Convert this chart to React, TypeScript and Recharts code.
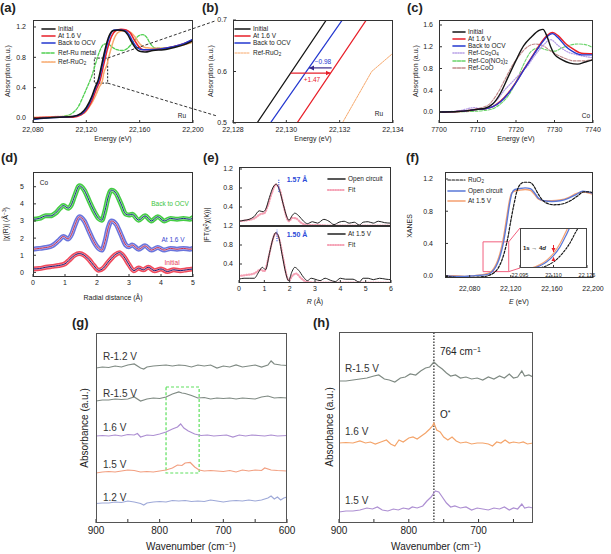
import React from 'react';
import { LineChart, Line, XAxis, YAxis, ReferenceArea, ReferenceLine } from 'recharts';

type Pt = [number, number];
const FONT = '"Liberation Sans", Arial, Helvetica, sans-serif';

// ---------- (a)/(b) Ru K-edge XANES ----------
const ruInitial: Pt[] = [[22080,-0.01],[22090,0],[22100,0.01],[22110,0.02],[22116,0.06],[22120,0.14],[22124,0.28],[22126.5,0.4],[22128.9,0.5],[22131.5,0.7],[22134,0.9],[22137,1.08],[22140,1.15],[22144,1.16],[22148,1.15],[22151,1.1],[22154,1.0],[22157,0.92],[22160,0.88],[22164,0.87],[22170,0.89],[22178,0.9],[22186,0.93],[22194,0.97],[22200,1.02]];
const ruAt16: Pt[] = [[22080,0],[22090,0.01],[22100,0.01],[22110,0.01],[22116,0.04],[22120,0.1],[22124,0.22],[22127.5,0.38],[22130.4,0.5],[22133,0.7],[22136,0.92],[22139,1.08],[22142,1.15],[22146,1.17],[22150,1.16],[22153,1.12],[22156,1.03],[22159,0.95],[22163,0.9],[22168,0.9],[22176,0.91],[22185,0.94],[22193,0.98],[22200,1.03]];
const ruBackOcv: Pt[] = [[22080,-0.02],[22090,0],[22100,0.01],[22110,0.02],[22116,0.05],[22120,0.12],[22124,0.26],[22127,0.4],[22129.4,0.5],[22132.1,0.7],[22135,0.93],[22138,1.1],[22141,1.16],[22145,1.16],[22149,1.15],[22152,1.1],[22155,1.0],[22158,0.93],[22162,0.9],[22168,0.9],[22176,0.91],[22185,0.94],[22193,0.98],[22200,1.04]];
const ruMetal: Pt[] = [[22080,0],[22095,0.01],[22105,0.03],[22110,0.07],[22114,0.15],[22118,0.3],[22121,0.42],[22124,0.55],[22127,0.72],[22130,0.88],[22133,0.97],[22136,0.98],[22139,0.94],[22143,0.9],[22147,0.89],[22151,0.92],[22155,1.0],[22159,1.08],[22162,1.1],[22165,1.07],[22168,0.98],[22172,0.92],[22178,0.92],[22186,0.94],[22193,0.97],[22200,1.0]];
const ruRuO2: Pt[] = [[22080,0.01],[22090,0.01],[22100,0.02],[22110,0.02],[22118,0.06],[22122,0.14],[22126,0.26],[22129.5,0.4],[22132.1,0.5],[22133.2,0.6],[22135,0.68],[22138,0.88],[22141,1.05],[22144,1.13],[22148,1.15],[22152,1.14],[22156,1.08],[22160,0.98],[22164,0.93],[22170,0.92],[22178,0.92],[22186,0.94],[22194,0.97],[22200,1.0]];
const ruXTicks = [22080, 22120, 22160, 22200];
const ruYTicks = [0, 0.4, 0.8, 1.2];
const zoomXTicks = [22128, 22130, 22132, 22134];
const zoomYTicks = [0.5, 0.6, 0.7];

// ---------- (c) Co K-edge XANES ----------
const coInitial: Pt[] = [[7700,0],[7705,0.01],[7708,0.03],[7710,0.05],[7712,0.07],[7714,0.15],[7716,0.35],[7718,0.65],[7720,0.95],[7722,1.22],[7724,1.38],[7726,1.5],[7727,1.52],[7728,1.4],[7729,1.2],[7730,1.06],[7732,0.96],[7734,0.9],[7736,0.88],[7738,0.92],[7740,0.96]];
const coAt16: Pt[] = [[7700,0],[7705,0.01],[7708,0.03],[7710,0.05],[7712,0.06],[7714,0.1],[7716,0.2],[7718,0.35],[7720,0.55],[7722,0.78],[7724,1.0],[7726,1.22],[7728,1.4],[7729.5,1.46],[7731,1.4],[7733,1.25],[7735,1.15],[7737,1.08],[7740,1.07]];
const coBackOcv: Pt[] = [[7700,0],[7705,0.01],[7708,0.03],[7710,0.05],[7712,0.06],[7714,0.1],[7716,0.19],[7718,0.34],[7720,0.54],[7722,0.77],[7724,0.99],[7726,1.2],[7728,1.38],[7729.5,1.44],[7731,1.36],[7733,1.2],[7735,1.1],[7737,1.05],[7740,1.05]];
const coCo3O4: Pt[] = [[7700,0],[7705,0.02],[7708,0.07],[7709,0.08],[7711,0.06],[7713,0.1],[7715,0.22],[7717,0.4],[7719,0.55],[7721,0.7],[7723,0.85],[7725,1.05],[7727,1.22],[7729,1.33],[7731,1.22],[7733,1.12],[7736,1.05],[7740,1.0]];
const coNO3: Pt[] = [[7700,0],[7708,0.01],[7712,0.03],[7714,0.06],[7716,0.15],[7718,0.3],[7720,0.55],[7722,0.88],[7724,1.12],[7726,1.18],[7728,1.14],[7730,1.12],[7732,1.18],[7734,1.23],[7736,1.25],[7738,1.24],[7740,1.18]];
const coCoO: Pt[] = [[7700,0],[7706,0.02],[7709,0.05],[7711,0.08],[7713,0.14],[7715,0.32],[7717,0.58],[7719,0.85],[7721,1.05],[7723,1.2],[7725,1.25],[7727,1.22],[7729,1.12],[7731,1.04],[7733,0.98],[7735,0.94],[7737,0.94],[7740,0.97]];
const coXTicks = [7700, 7710, 7720, 7730, 7740];
const coYTicks = [0, 0.4, 0.8, 1.2, 1.6];

// ---------- (d) Co EXAFS ----------
const dBackOcv: Pt[] = [[0,3.1],[0.2,3.15],[0.4,3.3],[0.55,3.3],[0.7,3.45],[0.85,3.75],[0.95,3.9],[1.1,3.75],[1.2,3.95],[1.3,4.45],[1.45,5.05],[1.6,4.8],[1.75,4.2],[1.9,3.6],[2.05,3.15],[2.15,3.05],[2.25,3.6],[2.35,4.4],[2.45,4.8],[2.6,4.6],[2.75,4.0],[2.9,3.4],[3.0,3.35],[3.1,3.4],[3.3,3.05],[3.5,3.3],[3.7,3.0],[3.9,3.25],[4.1,3.0],[4.3,3.15],[4.5,3.1],[4.7,3.15],[4.9,3.1],[5,3.2]];
const dAt16: Pt[] = [[0,1.35],[0.2,1.4],[0.4,1.45],[0.6,1.55],[0.8,1.85],[0.95,2.1],[1.1,1.95],[1.2,2.2],[1.3,2.7],[1.45,3.25],[1.6,3.0],[1.75,2.4],[1.9,1.8],[2.05,1.4],[2.15,1.3],[2.25,1.8],[2.35,2.6],[2.45,3.0],[2.6,2.8],[2.75,2.2],[2.9,1.6],[3.0,1.5],[3.1,1.6],[3.3,1.35],[3.5,1.55],[3.7,1.3],[3.9,1.45],[4.1,1.3],[4.3,1.4],[4.5,1.35],[4.7,1.4],[4.9,1.35],[5,1.4]];
const dInitial: Pt[] = [[0,0.2],[0.2,0.22],[0.4,0.3],[0.6,0.35],[0.8,0.4],[1.0,0.5],[1.15,0.75],[1.3,1.0],[1.45,1.1],[1.6,1.0],[1.75,0.75],[1.9,0.4],[2.05,0.12],[2.2,0.25],[2.35,0.6],[2.55,1.0],[2.7,1.15],[2.85,0.9],[3.0,0.45],[3.15,0.1],[3.3,0.25],[3.45,0.15],[3.6,0.3],[3.8,0.1],[4.0,0.2],[4.2,0.05],[4.4,0.15],[4.6,0.1],[4.8,0.15],[5,0.2]];
const dTicks = [0, 1, 2, 3, 4, 5];

// ---------- (e) Ru EXAFS fits ----------
const eOpen: Pt[] = [[0,0.1],[0.2,0.12],[0.4,0.14],[0.6,0.2],[0.8,0.32],[0.95,0.3],[1.05,0.35],[1.2,0.6],[1.35,0.82],[1.47,0.88],[1.6,0.75],[1.75,0.45],[1.9,0.18],[1.97,0.12],[2.1,0.22],[2.2,0.27],[2.35,0.22],[2.55,0.1],[2.7,0.05],[2.9,0.09],[3.1,0.06],[3.35,0.14],[3.55,0.1],[3.75,0.03],[3.95,0.08],[4.15,0.1],[4.35,0.06],[4.55,0.08],[4.75,0.02],[4.9,0.08],[5.1,0.09],[5.3,0.06],[5.5,0.1],[5.75,0.07],[6,0.06]];
const eOpenFit: Pt[] = [[0,0.1],[0.3,0.12],[0.6,0.16],[0.85,0.25],[1.0,0.27],[1.15,0.45],[1.3,0.7],[1.45,0.87],[1.6,0.78],[1.75,0.45],[1.9,0.15],[1.97,0.1],[2.1,0.17],[2.25,0.16],[2.45,0.07],[2.7,0.02],[3.0,0.02],[3.5,0.01],[4.0,0.01],[5.0,0.01],[6,0.01]];
const eAt15: Pt[] = [[0,0.08],[0.2,0.1],[0.4,0.1],[0.6,0.1],[0.8,0.25],[0.92,0.33],[1.05,0.28],[1.2,0.62],[1.35,0.95],[1.45,1.06],[1.55,1.0],[1.7,0.6],[1.85,0.2],[1.95,0.05],[2.1,0.25],[2.2,0.33],[2.35,0.27],[2.55,0.12],[2.7,0.05],[2.85,0.1],[3.0,0.08],[3.2,0.05],[3.4,0.1],[3.6,0.06],[3.8,0.03],[4.0,0.1],[4.2,0.08],[4.5,0.08],[4.75,0.02],[4.9,0.1],[5.1,0.1],[5.3,0.07],[5.55,0.1],[5.8,0.08],[6,0.07]];
const eAt15Fit: Pt[] = [[0,0.15],[0.3,0.17],[0.6,0.2],[0.85,0.28],[1.0,0.25],[1.15,0.5],[1.3,0.85],[1.45,1.05],[1.6,0.9],[1.75,0.5],[1.9,0.12],[1.97,0.05],[2.1,0.15],[2.25,0.2],[2.45,0.1],[2.7,0.02],[3.0,0.01],[4.0,0.01],[5.0,0.01],[6,0.01]];
const eXTicks = [0, 1, 2, 3, 4, 5, 6];
const eYTicks = [0.4, 0.8, 1.2];

// ---------- (f) Ru XANES ----------
const fRuO2: Pt[] = [[22056,-0.01],[22065,-0.02],[22075,-0.03],[22085,-0.02],[22095,-0.01],[22100,0.01],[22104,0.04],[22108,0.1],[22111,0.18],[22114,0.3],[22117,0.46],[22120,0.68],[22123,0.88],[22126,1.05],[22129,1.13],[22133,1.16],[22138,1.16],[22142,1.12],[22146,1.03],[22150,0.95],[22155,0.9],[22162,0.88],[22170,0.89],[22178,0.93],[22185,0.99],[22191,1.04],[22196,1.04],[22200,1.03]];
const fOpen: Pt[] = [[22056,0.0],[22065,-0.01],[22075,-0.01],[22085,0.0],[22095,0.01],[22100,0.03],[22104,0.08],[22107,0.15],[22110,0.26],[22113,0.42],[22116,0.65],[22119,0.9],[22121,1.02],[22124,1.07],[22128,1.08],[22134,1.09],[22139,1.08],[22143,1.03],[22147,0.96],[22152,0.93],[22160,0.92],[22168,0.93],[22176,0.96],[22184,1.01],[22190,1.05],[22195,1.04],[22200,1.02]];
const fAt15: Pt[] = [[22056,0.0],[22065,0.0],[22075,-0.01],[22085,0.0],[22095,0.02],[22100,0.04],[22104,0.1],[22107,0.18],[22110,0.3],[22113,0.48],[22116,0.72],[22119,0.95],[22121,1.03],[22124,1.05],[22128,1.06],[22134,1.07],[22139,1.06],[22143,1.01],[22147,0.95],[22152,0.93],[22160,0.93],[22168,0.94],[22176,0.97],[22184,1.02],[22190,1.04],[22195,1.03],[22200,1.01]];
const fXTicks = [22080, 22120, 22160, 22200];
const fYTicks = [0, 0.4, 0.8, 1.2];
const fInsetXTicks = [22095, 22110, 22125];

// ---------- (g) in situ IR ----------
const gR12: Pt[] = [[900,15.5],[890,15.6],[880,15.55],[870,15.7],[860,15.6],[850,15.8],[840,15.9],[830,15.5],[825,15.4],[820,15.6],[810,15.7],[800,15.75],[790,15.8],[780,15.7],[770,15.8],[760,15.75],[750,15.6],[740,15.8],[730,15.7],[720,15.8],[710,15.5],[700,15.7],[690,15.6],[680,15.8],[670,15.6],[660,15.7],[650,15.8],[640,15.6],[630,15.8],[625,16.2],[620,15.9],[610,15.8],[600,15.75]];
const gR15: Pt[] = [[900,12.2],[890,12.3],[880,12.3],[870,12.4],[860,12.35],[850,12.4],[840,12.6],[830,12.2],[820,12.4],[810,12.5],[800,12.45],[790,12.6],[780,12.9],[770,13.1],[765,13.0],[760,12.95],[750,12.75],[740,12.5],[730,12.55],[720,12.4],[710,12.5],[700,12.45],[690,12.5],[680,12.4],[670,12.5],[660,12.45],[650,12.4],[640,12.6],[630,12.7],[620,12.5],[610,12.55],[600,12.5]];
const g16: Pt[] = [[900,8.7],[890,8.75],[880,8.7],[870,8.8],[860,8.7],[850,8.85],[840,8.8],[835,8.95],[830,8.6],[820,8.8],[810,8.75],[800,8.9],[790,9.1],[780,9.4],[772,9.6],[767,9.9],[762,9.5],[755,9.2],[745,8.9],[735,8.75],[725,8.8],[715,8.7],[705,8.75],[695,8.8],[685,8.6],[675,8.8],[665,8.7],[655,8.8],[645,8.75],[635,8.7],[625,8.8],[615,8.7],[600,8.75]];
const g15: Pt[] = [[900,5.0],[890,5.1],[880,5.15],[870,5.1],[860,5.2],[850,5.3],[840,5.25],[830,5.1],[820,5.15],[810,5.1],[800,5.2],[790,5.3],[780,5.5],[772,5.8],[765,5.75],[760,6.0],[752,6.05],[745,5.6],[738,5.3],[730,5.2],[720,5.25],[710,5.2],[700,5.15],[690,5.25],[680,5.1],[670,5.3],[660,5.2],[650,5.3],[640,5.25],[635,5.5],[625,5.3],[615,5.25],[600,5.2]];
const g12: Pt[] = [[900,1.95],[890,2.0],[880,2.0],[870,2.1],[860,2.05],[850,2.2],[840,2.1],[830,1.95],[825,1.8],[820,2.0],[810,2.1],[800,2.15],[790,2.1],[780,2.25],[770,2.2],[760,2.25],[750,2.15],[740,2.2],[730,2.15],[720,2.3],[710,2.2],[700,2.1],[690,2.2],[680,2.25],[670,2.2],[660,2.3],[650,2.2],[640,2.3],[630,2.5],[625,2.7],[620,2.4],[615,2.6],[610,2.3],[605,2.5],[600,2.6]];
const gXTicks = [900, 850, 800, 750, 700, 650, 600];

// ---------- (h) in situ IR, 764 cm-1 ----------
const hR15: Pt[] = [[900,14.2],[890,14.2],[880,14.3],[870,14.4],[860,14.5],[850,14.7],[843,14.8],[835,14.4],[828,14.3],[820,14.1],[812,14.5],[805,14.6],[798,14.9],[790,14.8],[783,15.2],[776,15.5],[770,15.6],[764,16.1],[758,15.7],[752,15.4],[746,15.0],[740,14.7],[733,14.8],[726,14.5],[718,14.6],[710,14.4],[702,14.5],[694,14.3],[686,14.6],[678,14.4],[670,14.7],[663,14.5],[656,14.9],[650,14.5],[644,14.6],[638,15.2],[634,14.7],[628,14.8],[622,14.6]];
const h16: Pt[] = [[900,8.0],[890,8.05],[880,8.0],[870,8.2],[862,8.0],[855,8.1],[848,7.9],[840,8.1],[832,8.3],[826,7.9],[820,7.7],[814,8.3],[808,8.1],[800,8.5],[794,8.6],[788,8.4],[782,8.7],[776,9.0],[770,9.4],[766,9.7],[764,10.0],[760,9.3],[755,9.1],[750,8.6],[744,8.3],[738,8.6],[732,8.2],[726,8.0],[718,8.1],[710,7.9],[702,8.0],[694,8.0],[686,7.9],[680,7.7],[674,8.1],[668,8.0],[662,8.3],[656,8.0],[650,8.1],[642,8.0],[636,8.1],[630,7.9],[622,8.0]];
const h15: Pt[] = [[900,1.1],[890,1.2],[880,1.2],[870,1.3],[860,1.5],[852,1.4],[845,1.6],[838,1.3],[830,1.2],[822,1.4],[815,1.3],[808,1.5],[800,1.4],[795,1.6],[788,1.5],[780,1.7],[774,2.2],[768,2.6],[762,3.2],[757,3.1],[752,2.6],[746,2.0],[740,1.6],[734,1.7],[726,1.5],[718,1.6],[710,1.3],[702,1.5],[694,1.4],[686,1.3],[678,1.5],[670,1.4],[663,1.6],[656,1.3],[650,1.5],[644,1.4],[638,1.9],[634,1.5],[628,1.6],[622,1.5]];
const hXTicks = [900, 850, 800, 750, 700, 650];
const hPeak = 764;

// ---------- helpers ----------
const xy = (a: Pt[]) => a.map(([x, y]) => ({ x, y }));
const comma = (v: number) => String(v).replace(/\B(?=(\d{3})+(?!\d))/g, ',');
const f1 = (v: number) => v.toFixed(1);
const hundreds = (v: number) => (v % 100 === 0 ? String(v) : '');

type Box = { L: number; T: number; W: number; H: number; xd: [number, number]; yd: [number, number]; rev?: boolean };
const PA: Box = { L: 33, T: 20, W: 160, H: 103, xd: [22080, 22200], yd: [-0.066, 1.292] };
const PB: Box = { L: 233, T: 20, W: 160, H: 103, xd: [22128, 22134], yd: [0.5, 0.7] };
const PC: Box = { L: 439, T: 20, W: 154, H: 103, xd: [7700, 7740], yd: [-0.202, 1.692] };
const PD: Box = { L: 33, T: 172, W: 160, H: 105, xd: [0, 5], yd: [-0.27, 5.86] };
const PE1: Box = { L: 239, T: 167, W: 152, H: 59, xd: [0, 6], yd: [0, 1.242] };
const PE2: Box = { L: 239, T: 226, W: 152, H: 57, xd: [0, 6], yd: [0, 1.2] };
const PF: Box = { L: 445, T: 172, W: 148, H: 106, xd: [22056, 22200], yd: [-0.029, 1.287] };
const PFI: Box = { L: 520, T: 228, W: 67, H: 40, xd: [22095, 22125], yd: [0.04, 0.75] };
const PG: Box = { L: 96, T: 333, W: 191, H: 190, xd: [600, 900], yd: [0, 19], rev: true };
const PH: Box = { L: 339, T: 332, W: 194, H: 191, xd: [622, 900], yd: [0, 19.1], rev: true };

const mx = (b: Box, v: number) => b.L + (b.rev ? b.xd[1] - v : v - b.xd[0]) / (b.xd[1] - b.xd[0]) * b.W;
const my = (b: Box, v: number) => b.T + (b.yd[1] - v) / (b.yd[1] - b.yd[0]) * b.H;

interface ChartProps {
  b: Box; xt?: number[]; yt?: number[];
  xf?: (v: number) => string; yf?: (v: number) => string;
  fs?: number; yw?: number; xh?: number; xm?: number; ym?: number; tk?: number;
  hideX?: boolean; hideY?: boolean; frame?: string; bg?: boolean;
  children?: React.ReactNode;
}

const MT = 6, MR = 16, ML = 16;

function Chart(p: ChartProps) {
  const b = p.b;
  const yw = p.hideY ? 0 : (p.yw ?? 32);
  const xh = p.xh ?? 20;
  const fs = p.fs ?? 7;
  const tickStyle = { fontSize: fs, fill: '#222', fontFamily: FONT };
  const tk = p.tk ?? 3;
  const w = ML + yw + b.W + MR;
  const h = MT + b.H + xh;
  return (
    <div style={{ position: 'absolute', left: b.L - yw - ML, top: b.T - MT, width: w, height: h }}>
      {p.bg && <div style={{ position: 'absolute', left: ML + yw, top: MT, width: b.W, height: b.H, background: '#fff' }} />}
      <LineChart width={w} height={h} margin={{ top: MT, right: MR, bottom: 0, left: ML }}>
        <XAxis type="number" dataKey="x" domain={b.xd} allowDataOverflow ticks={p.xt} interval={0}
          reversed={b.rev} height={xh} axisLine={false} tickSize={-tk} tickMargin={p.xm ?? 7}
          tick={p.hideX ? false : tickStyle} tickFormatter={p.xf} stroke="#333" />
        <YAxis type="number" domain={b.yd} allowDataOverflow ticks={p.yt} interval={0} width={yw}
          hide={p.hideY} axisLine={false} tickSize={-tk} tickMargin={p.ym ?? 9}
          tick={tickStyle} tickFormatter={p.yf} stroke="#333" />
        {p.children}
      </LineChart>
      <div style={{ position: 'absolute', left: ML + yw, top: MT, width: b.W, height: b.H, border: `1px solid ${p.frame ?? '#333'}`, boxSizing: 'border-box', pointerEvents: 'none' }} />
    </div>
  );
}

function Tx(p: { x: number; y: number; s?: number; a?: 'l' | 'm' | 'r'; c?: string; b?: boolean; r?: boolean; i?: boolean; children: React.ReactNode }) {
  const tx = p.a === 'm' ? '-50%' : p.a === 'r' ? '-100%' : '0';
  return (
    <div style={{
      position: 'absolute', left: p.x, top: p.y,
      transform: p.r ? 'translate(-50%,-50%) rotate(-90deg)' : `translate(${tx},-50%)`,
      fontSize: p.s ?? 7, color: p.c ?? '#222', fontWeight: p.b ? 700 : 400, fontStyle: p.i ? 'italic' : 'normal',
      whiteSpace: 'nowrap', lineHeight: 1, fontFamily: FONT, zIndex: 6, pointerEvents: 'none',
    }}>{p.children}</div>
  );
}

const Sub = ({ children }: { children: React.ReactNode }) => <span style={{ fontSize: '0.7em', position: 'relative', top: '0.3em' }}>{children}</span>;
const Sup = ({ children }: { children: React.ReactNode }) => <span style={{ fontSize: '0.7em', position: 'relative', top: '-0.4em' }}>{children}</span>;

const ln = (data: Pt[], color: string, w = 1.2, dash?: string, type: 'monotone' | 'linear' = 'monotone', key?: string) => (
  <Line key={key ?? color + data.length + (dash ?? '') + w} data={xy(data)} dataKey="y" type={type} stroke={color} strokeWidth={w}
    strokeDasharray={dash} dot={false} isAnimationActive={false} strokeLinecap="round" />
);

const C = {
  black: '#151515', red: '#e8202a', blue: '#2438d0', green: '#52d052', orange: '#f7a86b',
  lav: '#b69ee6', cooGreen: '#6ad46a', coo: '#c08888',
  fBlue: '#5a78d8', fOrange: '#f5a070', pink: '#f5a0b4',
};

type LegendItem = { color: string; dash?: string; w?: number; label: React.ReactNode };
function Legend({ x1, x2, ys, items, s = 6.5, svg }: { x1: number; x2: number; ys: number[]; items: LegendItem[]; s?: number; svg?: boolean }) {
  if (svg) {
    return <>{items.map((it, i) => (
      <line key={i} x1={x1} x2={x2} y1={ys[i]} y2={ys[i]} stroke={it.color} strokeWidth={it.w ?? 1.6} strokeDasharray={it.dash} strokeLinecap="round" />
    ))}</>;
  }
  return <>{items.map((it, i) => <Tx key={i} x={x2 + 3} y={ys[i]} s={s}>{it.label}</Tx>)}</>;
}

const legA: LegendItem[] = [
  { color: C.black, label: 'Initial' },
  { color: C.red, label: 'At 1.6 V' },
  { color: C.blue, label: 'Back to OCV' },
  { color: C.green, dash: '3 1.5', label: 'Ref-Ru metal' },
  { color: C.orange, dash: '2 1', label: <>Ref-RuO<Sub>2</Sub></> },
];
const legAy = [29, 36, 43, 53, 62];
const legB: LegendItem[] = [
  { color: C.black, label: 'Initial' },
  { color: C.red, label: 'At 1.6 V' },
  { color: C.blue, label: 'Back to OCV' },
  { color: C.orange, dash: '2 1', w: 1, label: <>Ref-RuO<Sub>2</Sub></> },
];
const legBy = [29, 36, 43, 53];
const legC: LegendItem[] = [
  { color: C.black, label: 'Initial' },
  { color: C.red, label: 'At 1.6 V' },
  { color: C.blue, label: 'Back to OCV' },
  { color: C.lav, dash: '1 1.5', label: <>Ref-Co<Sub>3</Sub>O<Sub>4</Sub></> },
  { color: C.cooGreen, dash: '3 1.5', label: <>Ref-Co(NO<Sub>3</Sub>)<Sub>2</Sub></> },
  { color: C.coo, dash: '3 1.5', label: 'Ref-CoO' },
];
const legCy = [32, 39, 46, 53, 61, 68];
const legE1: LegendItem[] = [{ color: '#222', label: 'Open circuit' }, { color: C.pink, dash: '0.5 2', w: 2.2, label: 'Fit' }];
const legE2: LegendItem[] = [{ color: '#222', label: 'At 1.5 V' }, { color: C.pink, dash: '0.5 2', w: 2.2, label: 'Fit' }];
const legF: LegendItem[] = [
  { color: C.black, dash: '2.5 1.5', w: 1.2, label: <>RuO<Sub>2</Sub></> },
  { color: C.fBlue, label: 'Open circuit' },
  { color: C.fOrange, label: 'At 1.5 V' },
];

export default function App() {
  const aRect = { x1: 22126, x2: 22136, y1: 0.46, y2: 0.79 };
  const fRect = { x1: 22093, x2: 22118, y1: 0.05, y2: 0.42 };
  const arrowUpY = 0.607, arrowLoY = 0.597;
  return (
    <div style={{ position: 'absolute', left: 0, top: 0, width: 611, height: 554, background: '#fff', overflow: 'hidden', fontFamily: FONT }}>
      {/* (a) */}
      <Chart b={PA} xt={ruXTicks} yt={ruYTicks} xf={comma} yf={f1} ym={10}>
        <ReferenceArea x1={aRect.x1} x2={aRect.x2} y1={aRect.y1} y2={aRect.y2} fill="none" stroke="#222" strokeDasharray="2 1.5" strokeWidth={1} />
        {ln(ruMetal, C.green, 1.3, '3 1.5')}
        {ln(ruRuO2, C.orange, 1.5, '2 1')}
        {ln(ruAt16, C.red, 1.5)}
        {ln(ruBackOcv, C.blue, 1.5)}
        {ln(ruInitial, C.black, 1.5)}
      </Chart>
      {/* (b) */}
      <Chart b={PB} xt={zoomXTicks} yt={zoomYTicks} xf={comma} yf={f1} ym={9}>
        {ln(ruRuO2, C.orange, 1.0, '2 1', 'linear')}
        {ln(ruAt16, C.red, 1.3, undefined, 'linear')}
        {ln(ruBackOcv, C.blue, 1.3, undefined, 'linear')}
        {ln(ruInitial, C.black, 1.3, undefined, 'linear')}
      </Chart>
      {/* (c) */}
      <Chart b={PC} xt={coXTicks} yt={coYTicks} yf={f1} ym={9}>
        {ln(coNO3, C.cooGreen, 1.1, '3 1.5')}
        {ln(coCoO, C.coo, 1.1, '3 1.5')}
        {ln(coCo3O4, C.lav, 1.3, '1 1.5')}
        {ln(coAt16, C.red, 1.5)}
        {ln(coBackOcv, C.blue, 1.3)}
        {ln(coInitial, C.black, 1.4)}
      </Chart>
      {/* (d) */}
      <Chart b={PD} xt={dTicks} yt={dTicks} ym={12} xm={6}>
        {ln(dBackOcv, '#44cc44', 5, undefined, 'monotone', 'd1a')}
        {ln(dBackOcv, '#aef0a8', 2, undefined, 'monotone', 'd1b')}
        {ln(dBackOcv, '#1c2a8c', 1, undefined, 'monotone', 'd1c')}
        {ln(dAt16, '#6a74dc', 5, undefined, 'monotone', 'd2a')}
        {ln(dAt16, '#c0c6f6', 2, undefined, 'monotone', 'd2b')}
        {ln(dAt16, '#d0304a', 1, undefined, 'monotone', 'd2c')}
        {ln(dInitial, '#f04a5c', 5, undefined, 'monotone', 'd3a')}
        {ln(dInitial, '#f8b0b8', 2, undefined, 'monotone', 'd3b')}
        {ln(dInitial, '#1c1c7a', 1, undefined, 'monotone', 'd3c')}
      </Chart>
      {/* (e) upper */}
      <Chart b={PE1} xt={eXTicks} yt={eYTicks} yf={f1} hideX ym={9}>
        {ln(eOpenFit, C.pink, 2.2, '0.5 2', 'monotone', 'e1f')}
        {ln(eOpen, '#222', 1, undefined, 'monotone', 'e1d')}
        <ReferenceLine segment={[{ x: 1.57, y: 0.72 }, { x: 1.57, y: 0.98 }]} stroke="#3a5ae0" strokeDasharray="1 1.2" strokeWidth={1.2} />
      </Chart>
      {/* (e) lower */}
      <Chart b={PE2} xt={eXTicks} yt={eYTicks} yf={f1} ym={9} xm={6.5}>
        {ln(eAt15Fit, C.pink, 2.2, '0.5 2', 'monotone', 'e2f')}
        {ln(eAt15, '#222', 1, undefined, 'monotone', 'e2d')}
        <ReferenceLine segment={[{ x: 1.5, y: 0.88 }, { x: 1.5, y: 1.12 }]} stroke="#3a5ae0" strokeDasharray="1 1.2" strokeWidth={1.2} />
      </Chart>
      {/* (f) */}
      <Chart b={PF} xt={fXTicks} yt={fYTicks} xf={comma} yf={f1} ym={15} xm={11}>
        <ReferenceArea x1={fRect.x1} x2={fRect.x2} y1={fRect.y1} y2={fRect.y2} fill="none" stroke="#f2607e" strokeWidth={1} />
        {ln(fAt15, C.fOrange, 1.4, undefined, 'monotone', 'f3')}
        {ln(fOpen, C.fBlue, 1.4, undefined, 'monotone', 'f2')}
        {ln(fRuO2, C.black, 1.2, '2.5 1.5', 'monotone', 'f1')}
      </Chart>
      {/* (f) inset */}
      <Chart b={PFI} xt={fInsetXTicks} xf={comma} hideY bg fs={5.5} xm={8} xh={14} frame="#444">
        {ln(fAt15, C.fOrange, 1.2, undefined, 'monotone', 'fi3')}
        {ln(fOpen, C.fBlue, 1.2, undefined, 'monotone', 'fi2')}
        {ln(fRuO2, C.black, 1.1, '2 1.5', 'monotone', 'fi1')}
      </Chart>
      {/* (g) */}
      <Chart b={PG} xt={gXTicks} xf={hundreds} hideY fs={10} tk={4} xm={8} xh={22} frame="#555">
        <ReferenceArea x1={790} x2={738} y1={5.0} y2={13.6} fill="none" stroke="#5ee05e" strokeDasharray="3 2" strokeWidth={1.2} />
        {ln(gR12, '#7f8a83', 1.2, undefined, 'linear', 'g1')}
        {ln(gR15, '#7f8a83', 1.2, undefined, 'linear', 'g2')}
        {ln(g16, '#ad8fd2', 1.2, undefined, 'linear', 'g3')}
        {ln(g15, '#f29f80', 1.2, undefined, 'linear', 'g4')}
        {ln(g12, '#9ea9d8', 1.2, undefined, 'linear', 'g5')}
      </Chart>
      {/* (h) */}
      <Chart b={PH} xt={hXTicks} xf={hundreds} hideY fs={10} tk={4} xm={8} xh={22} frame="#555">
        <ReferenceLine x={hPeak} stroke="#222" strokeDasharray="1.5 1.5" strokeWidth={1.2} />
        {ln(hR15, '#7f8a83', 1.2, undefined, 'linear', 'h1')}
        {ln(h16, '#f4a46a', 1.2, undefined, 'linear', 'h2')}
        {ln(h15, '#ad8fd2', 1.2, undefined, 'linear', 'h3')}
      </Chart>

      {/* overlay graphics */}
      <svg width={611} height={554} style={{ position: 'absolute', left: 0, top: 0, zIndex: 5, pointerEvents: 'none' }}>
        <line x1={mx(PA, aRect.x2)} y1={my(PA, aRect.y2)} x2={215} y2={21} stroke="#333" strokeWidth={1} strokeDasharray="3 2" />
        <line x1={mx(PA, aRect.x2)} y1={my(PA, aRect.y1)} x2={217} y2={116} stroke="#333" strokeWidth={1} strokeDasharray="3 2" />
        <line x1={mx(PF, fRect.x2)} y1={my(PF, fRect.y2)} x2={PFI.L} y2={PFI.T} stroke="#f2607e" strokeWidth={1} />
        <line x1={mx(PF, fRect.x2)} y1={my(PF, fRect.y1)} x2={PFI.L} y2={PFI.T + PFI.H} stroke="#f2607e" strokeWidth={1} />
        <defs>
          <marker id="ahR" markerWidth="6" markerHeight="6" refX="5" refY="3" orient="auto" markerUnits="userSpaceOnUse">
            <path d="M0,0.5 L5,3 L0,5.5 z" fill="#e8202a" />
          </marker>
          <marker id="ahB" markerWidth="6" markerHeight="6" refX="5" refY="3" orient="auto" markerUnits="userSpaceOnUse">
            <path d="M0,0.5 L5,3 L0,5.5 z" fill="#3a2a8a" />
          </marker>
          <marker id="ahF" markerWidth="5" markerHeight="5" refX="4" refY="2.5" orient="auto" markerUnits="userSpaceOnUse">
            <path d="M0,0.5 L4,2.5 L0,4.5 z" fill="#e8202a" />
          </marker>
        </defs>
        <line x1={mx(PB, 22131.7)} y1={my(PB, arrowUpY)} x2={mx(PB, 22130.85)} y2={my(PB, arrowUpY)} stroke="#3a2a8a" strokeWidth={1.2} markerEnd="url(#ahB)" />
        <line x1={mx(PB, 22130.16)} y1={my(PB, arrowLoY)} x2={mx(PB, 22131.66)} y2={my(PB, arrowLoY)} stroke="#e8202a" strokeWidth={1.2} markerEnd="url(#ahR)" />
        <line x1={mx(PFI, 22110)} y1={245} x2={mx(PFI, 22110)} y2={252} stroke="#e8202a" strokeWidth={1} markerEnd="url(#ahF)" />
        <line x1={mx(PFI, 22110)} y1={262} x2={mx(PFI, 22110)} y2={257} stroke="#f5a0b4" strokeWidth={1} markerEnd="url(#ahF)" />
        <Legend svg x1={42} x2={55} ys={legAy} items={legA} />
        <Legend svg x1={235} x2={250} ys={legBy} items={legB} />
        <Legend svg x1={453} x2={465} ys={legCy} items={legC} />
        <Legend svg x1={328} x2={345} ys={[179, 190]} items={legE1} />
        <Legend svg x1={328} x2={345} ys={[234, 245]} items={legE2} />
        <Legend svg x1={448} x2={465} ys={[180, 191, 201]} items={legF} />
      </svg>

      {/* legends text */}
      <Legend x1={42} x2={55} ys={legAy} items={legA} />
      <Legend x1={235} x2={250} ys={legBy} items={legB} />
      <Legend x1={453} x2={465} ys={legCy} items={legC} />
      <Legend x1={328} x2={345} ys={[179, 190]} items={legE1} />
      <Legend x1={328} x2={345} ys={[234, 245]} items={legE2} />
      <Legend x1={448} x2={465} ys={[180, 191, 201]} items={legF} />

      {/* panel labels */}
      <Tx x={0} y={7} s={13} b>(a)</Tx>
      <Tx x={202} y={7} s={13} b>(b)</Tx>
      <Tx x={407} y={7} s={13} b>(c)</Tx>
      <Tx x={1} y={157} s={13} b>(d)</Tx>
      <Tx x={203} y={157} s={13} b>(e)</Tx>
      <Tx x={406} y={157} s={13} b>(f)</Tx>
      <Tx x={72} y={322} s={13} b>(g)</Tx>
      <Tx x={313} y={322} s={13} b>(h)</Tx>

      {/* axis titles */}
      <Tx x={113} y={138} a="m">Energy (eV)</Tx>
      <Tx x={313} y={138} a="m">Energy (eV)</Tx>
      <Tx x={516} y={138} a="m">Energy (eV)</Tx>
      <Tx x={7} y={71} r>Absorption (a.u.)</Tx>
      <Tx x={210} y={71} r>Absorption (a.u.)</Tx>
      <Tx x={415} y={71} r>Absorption (a.u.)</Tx>
      <Tx x={6} y={224} r>|χ(R)| (Å<Sup>−3</Sup>)</Tx>
      <Tx x={113} y={297} a="m">Radial distance (Å)</Tx>
      <Tx x={207} y={225} r>|FT(k<Sup>2</Sup>χ(k))|</Tx>
      <Tx x={315} y={301} a="m"><i>R</i> (Å)</Tx>
      <Tx x={409} y={226} r>XANES</Tx>
      <Tx x={519} y={301} a="m"><i>E</i> (eV)</Tx>
      <Tx x={85} y={428} r s={10}>Absorbance (a.u.)</Tx>
      <Tx x={191} y={547} a="m" s={10}>Wavenumber (cm<Sup>−1</Sup>)</Tx>
      <Tx x={330} y={427} r s={10}>Absorbance (a.u.)</Tx>
      <Tx x={436} y={547} a="m" s={10}>Wavenumber (cm<Sup>−1</Sup>)</Tx>

      {/* in-plot annotations */}
      <Tx x={182} y={116} a="m" s={6.5}>Ru</Tx>
      <Tx x={379} y={114} a="m" s={6.5}>Ru</Tx>
      <Tx x={586} y={116} a="m" s={6.5}>Co</Tx>
      <Tx x={44} y={183} a="m" s={6.5}>Co</Tx>
      <Tx x={323} y={62} a="m" s={6.5} c="#2438d0">−0.98</Tx>
      <Tx x={312} y={80} a="m" s={6.5} c="#e8202a">+1.47</Tx>
      <Tx x={170} y={204} a="m" s={6.5} c="#3cc43c">Back to OCV</Tx>
      <Tx x={173} y={240} a="m" s={6.5} c="#3a48d0">At 1.6 V</Tx>
      <Tx x={172} y={263} a="m" s={6.5} c="#e8405a">Initial</Tx>
      <Tx x={297} y={179} a="m" s={7} c="#2a4ad8" b>1.57 Å</Tx>
      <Tx x={297} y={234} a="m" s={7} c="#2a4ad8" b>1.50 Å</Tx>
      <Tx x={523} y={248} s={6} b>1s → 4<i>d</i></Tx>
      <Tx x={103} y={357} s={10} c="#333">R-1.2 V</Tx>
      <Tx x={103} y={394} s={10} c="#333">R-1.5 V</Tx>
      <Tx x={103} y={428} s={10} c="#333">1.6 V</Tx>
      <Tx x={103} y={465} s={10} c="#333">1.5 V</Tx>
      <Tx x={103} y={498} s={10} c="#333">1.2 V</Tx>
      <Tx x={345} y={369} s={10} c="#333">R-1.5 V</Tx>
      <Tx x={345} y={432} s={10} c="#333">1.6 V</Tx>
      <Tx x={345} y={501} s={10} c="#333">1.5 V</Tx>
      <Tx x={440} y={352} s={10} c="#222">764 cm<Sup>−1</Sup></Tx>
      <Tx x={440} y={415} s={10} c="#222">O<Sup>*</Sup></Tx>
    </div>
  );
}
